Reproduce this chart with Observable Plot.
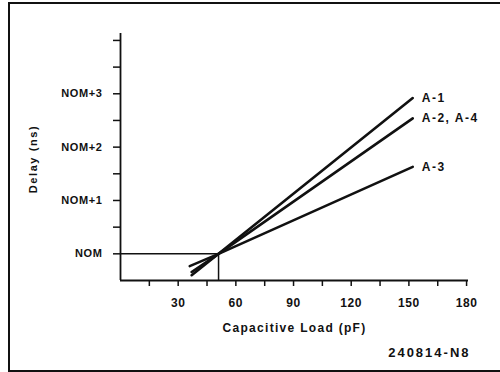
<!DOCTYPE html>
<html>
<head>
<meta charset="utf-8">
<script src="https://cdn.jsdelivr.net/npm/d3@7"></script>
<script src="https://cdn.jsdelivr.net/npm/@observablehq/plot@0.6"></script>
<style>
  html, body { margin: 0; padding: 0; background: #fff; }
  #wrap { position: relative; width: 500px; height: 372px; }
  #border { position: absolute; left: 8px; top: 2px; width: 500px; height: 366px;
            border-left: 2px solid #111; border-top: 2px solid #111; border-bottom: 2px solid #111; pointer-events: none; }
</style>
</head>
<body>
<div id="wrap"><div id="border"></div></div>
<script>
// Data
const series = ["A-1", "A-2, A-4", "A-3"];
const loadPf = [
  [37, 51, 152],   // A-1
  [37, 51, 152],   // A-2, A-4
  [36, 51, 152]    // A-3
];
const delayNs = [
  [-0.40, 0, 2.92],
  [-0.34, 0, 2.54],
  [-0.23, 0, 1.63]
];
const xTicks = [30, 60, 90, 120, 150, 180];
const xMinorTicks = [15, 45, 75, 105, 135, 165];
const yTicks = [0, 1, 2, 3];
const yTickLabels = ["NOM", "NOM+1", "NOM+2", "NOM+3"];
const yMinorTicks = [0.5, 1.5, 2.5, 3.5, 4];
const nominalLoad = 51;

const rows = [];
series.forEach((s, i) => loadPf[i].forEach((x, j) => rows.push({series: s, x, y: delayNs[i][j]})));
const ends = series.map((s, i) => ({series: s, x: loadPf[i][2], y: delayNs[i][2]}));

const font = "'Liberation Sans', Arial, sans-serif";

const chart = Plot.plot({
  width: 500,
  height: 372,
  marginLeft: 120,
  marginRight: 32,
  marginTop: 33,
  marginBottom: 92,
  style: {fontFamily: font, fontSize: "11px", fontWeight: "bold", color: "#111", background: "transparent", overflow: "visible", letterSpacing: "0.6px"},
  x: {domain: [0, 181]},
  y: {domain: [-0.5, 4.13]},
  marks: [
    Plot.axisX({ticks: xTicks, tickSize: 6, tickPadding: 12, label: null, strokeWidth: 1.5, fontSize: 12}),
    Plot.axisX({ticks: xMinorTicks, tickSize: 6, tickFormat: () => "", label: null, strokeWidth: 1.5}),
    Plot.axisY({ticks: yTicks, tickSize: 7, tickPadding: 11, tickFormat: (d) => yTickLabels[yTicks.indexOf(d)], strokeWidth: 1.5, label: null}),
    Plot.axisY({ticks: yMinorTicks, tickSize: 7, tickFormat: () => "", label: null, strokeWidth: 1.5}),
    Plot.ruleX([0], {stroke: "#111", strokeWidth: 1.8}),
    Plot.ruleY([-0.5], {stroke: "#111", strokeWidth: 1.8}),
    Plot.ruleY([0], {x1: 0, x2: nominalLoad, stroke: "#111", strokeWidth: 1.5}),
    Plot.ruleX([nominalLoad], {y1: -0.5, y2: 0, stroke: "#111", strokeWidth: 1.5}),
    Plot.line(rows, {x: "x", y: "y", z: "series", stroke: "#111", strokeWidth: 2.6}),
    Plot.text(ends, {x: "x", y: "y", text: "series", textAnchor: "start", dx: 9, fill: "#111", fontSize: 12, fontWeight: "bold"}),
    Plot.text(["Capacitive Load (pF)"], {frameAnchor: "bottom", dy: 48, fill: "#111", fontSize: 12, fontWeight: "bold", lineAnchor: "middle"}),
    Plot.text(["Delay (ns)"], {frameAnchor: "left", dx: -87, dy: 2, rotate: -90, textAnchor: "middle", lineAnchor: "middle", fill: "#111", fontSize: 11, fontWeight: "bold"}),
    Plot.text(["240814-N8"], {frameAnchor: "bottom-right", dx: 2, dy: 72, textAnchor: "end", fill: "#111", fontSize: 13, fontWeight: "bold", lineAnchor: "middle"})
  ]
});
chart.style.position = "absolute";
chart.style.left = "0px";
chart.style.top = "0px";
chart.querySelectorAll("text").forEach(t => {
  const s = t.textContent;
  if (s === "Capacitive Load (pF)") t.setAttribute("letter-spacing", "1.3px");
  if (s === "240814-N8") t.setAttribute("letter-spacing", "2px");
  if (s.startsWith("A-")) t.setAttribute("letter-spacing", "1.5px");
  if (s === "Delay (ns)") t.setAttribute("letter-spacing", "1.6px");
});
document.getElementById("wrap").appendChild(chart);
</script>
</body>
</html>
